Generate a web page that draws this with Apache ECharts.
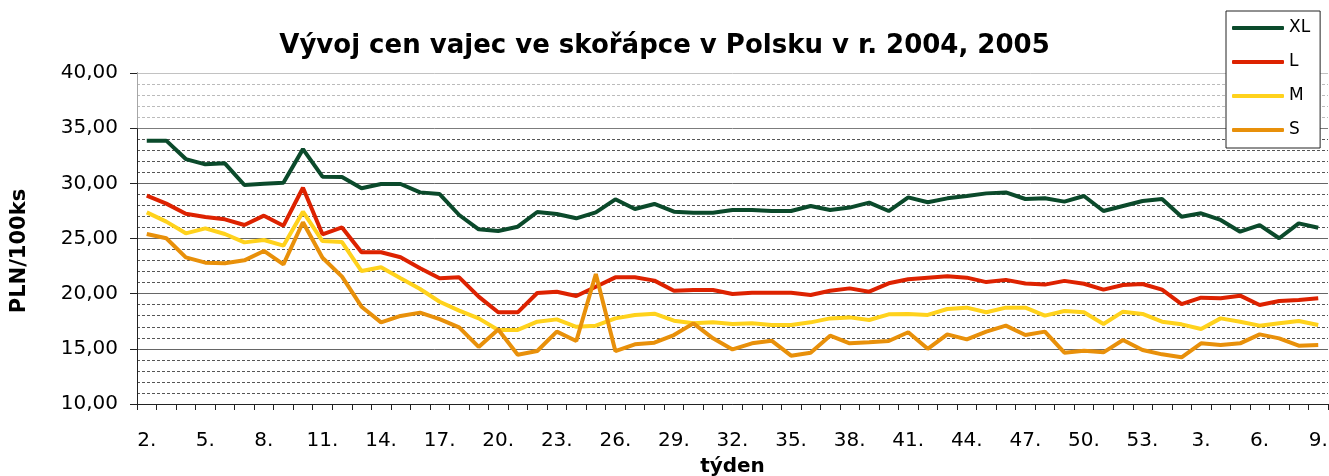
<!DOCTYPE html>
<html>
<head>
<meta charset="utf-8">
<script src="https://cdn.jsdelivr.net/npm/echarts@6/dist/echarts.min.js"></script>
<style>
html,body{margin:0;padding:0;background:#fff;}
#c{width:1329px;height:476px;}
</style>
</head>
<body>
<div id="c"></div>
<script>
var weeks2004 = [2,3,4,5,6,7,8,9,10,11,12,13,14,15,16,17,18,19,20,21,22,23,24,25,26,27,28,29,30,31,32,33,34,35,36,37,38,39,40,41,42,43,44,45,46,47,48,49,50,51,52,53];
var weeks2005 = [1,2,3,4,5,6,7,8,9];
var categories = weeks2004.concat(weeks2005).map(function(w){ return w + '.'; });

var seriesNames = ['XL', 'L', 'M', 'S'];

var xl = [33.87,33.87,32.2,31.72,31.81,29.85,29.97,30.06,33.1,30.6,30.57,29.55,29.94,29.94,29.18,29.03,27.13,25.83,25.68,26.07,27.4,27.22,26.83,27.37,28.55,27.67,28.13,27.43,27.34,27.34,27.58,27.58,27.49,27.49,27.95,27.58,27.8,28.25,27.49,28.73,28.28,28.64,28.85,29.09,29.18,28.58,28.64,28.34,28.85,27.49,27.95,28.4,28.58,26.98,27.28,26.68,25.62,26.22,25.02,26.37,25.98];
var l = [28.88,28.16,27.25,26.95,26.74,26.22,27.07,26.16,29.6,25.38,26.0,23.75,23.75,23.3,22.3,21.39,21.48,19.73,18.31,18.31,20.06,20.18,19.79,20.63,21.48,21.48,21.18,20.27,20.33,20.33,19.97,20.09,20.09,20.09,19.88,20.27,20.48,20.18,20.94,21.3,21.45,21.57,21.45,21.05,21.25,20.92,20.82,21.16,20.9,20.37,20.79,20.88,20.36,19.06,19.64,19.58,19.82,18.97,19.34,19.43,19.58];
var m = [27.37,26.53,25.47,25.92,25.41,24.65,24.86,24.35,27.43,24.77,24.68,22.05,22.39,21.39,20.42,19.27,18.46,17.76,16.71,16.71,17.46,17.67,17.0,17.1,17.76,18.07,18.19,17.55,17.31,17.4,17.25,17.31,17.16,17.16,17.4,17.76,17.85,17.61,18.13,18.16,18.07,18.61,18.73,18.31,18.73,18.73,18.01,18.43,18.31,17.25,18.37,18.16,17.46,17.22,16.8,17.76,17.46,17.1,17.31,17.52,17.16];
var s = [25.41,25.02,23.29,22.81,22.75,23.02,23.87,22.66,26.47,23.26,21.54,18.82,17.4,17.98,18.28,17.7,16.95,15.17,16.75,14.47,14.8,16.56,15.71,21.78,14.8,15.41,15.56,16.25,17.31,15.95,14.95,15.5,15.74,14.38,14.65,16.19,15.5,15.59,15.71,16.5,15.0,16.31,15.86,16.56,17.1,16.25,16.56,14.65,14.83,14.68,15.8,14.89,14.5,14.23,15.5,15.35,15.5,16.31,15.95,15.29,15.35];

var yMin = 10, yMax = 40, yStep = 5;
var fadedBand = [35, 40];
var colors = ['#0b4a2b', '#dd2200', '#ffd21c', '#e8900a'];
var values = [xl, l, m, s];

var chart = echarts.init(document.getElementById('c'), null, {renderer: 'canvas'});
var font = 'DejaVu Sans';

var series = seriesNames.map(function(n, i){
  return {
    name: n,
    type: 'line',
    data: values[i],
    symbol: 'none',
    color: colors[i],
    lineStyle: {width: 4, color: colors[i]},
    z: 3
  };
});
// lighten the gridlines in the top band, as in the original
series[0].markArea = {
  silent: true,
  z: 1,
  itemStyle: {color: 'rgba(255,255,255,0.6)'},
  data: [[{yAxis: fadedBand[0]}, {yAxis: fadedBand[1]}]]
};

chart.setOption({
  animation: false,
  backgroundColor: '#ffffff',
  title: {
    text: 'Vývoj cen vajec ve skořápce v Polsku v r. 2004, 2005',
    left: 'center',
    top: 28,
    textStyle: {fontFamily: font, fontWeight: 'bold', fontSize: 26, color: '#000'}
  },
  legend: {
    orient: 'vertical',
    left: 1226,
    top: 11,
    padding: [7, 10, 8, 6],
    itemWidth: 52,
    itemHeight: 4,
    itemGap: 14,
    icon: 'roundRect',
    backgroundColor: '#fff',
    borderColor: '#222',
    borderWidth: 1,
    textStyle: {fontFamily: font, fontSize: 17, color: '#000', lineHeight: 20},
    data: seriesNames
  },
  grid: {left: 137, right: 1, top: 73, bottom: 72, containLabel: false, outerBoundsMode: 'none'},
  xAxis: {
    type: 'category',
    data: categories,
    boundaryGap: true,
    name: 'týden',
    nameLocation: 'middle',
    nameGap: 53,
    nameTextStyle: {fontFamily: font, fontWeight: 'bold', fontSize: 20, color: '#000'},
    axisLine: {lineStyle: {color: '#222', width: 1}},
    axisTick: {show: true, interval: 0, length: 6, lineStyle: {color: '#222'}},
    axisLabel: {interval: 2, margin: 27, fontFamily: font, fontSize: 20, color: '#000'},
    splitLine: {show: false}
  },
  yAxis: {
    type: 'value',
    min: yMin,
    max: yMax,
    interval: yStep,
    axisLine: {show: true, lineStyle: {color: '#222', width: 1}},
    axisTick: {show: true, length: 7, lineStyle: {color: '#222'}},
    axisLabel: {
      margin: 19, fontFamily: font, fontSize: 20, color: '#000',
      formatter: function(v){ return v.toFixed(2).replace('.', ','); }
    },
    splitLine: {show: true, lineStyle: {color: '#666', width: 1}},
    minorTick: {show: false, splitNumber: 5},
    minorSplitLine: {show: true, lineStyle: {color: '#555', width: 1, type: [3, 2]}}
  },
  graphic: [{
    type: 'text',
    x: 20, y: 251,
    rotation: Math.PI / 2,
    style: {
      text: 'PLN/100ks',
      fontFamily: font, fontWeight: 'bold', fontSize: 21, fill: '#000',
      align: 'center', verticalAlign: 'middle'
    }
  }],
  series: series
});
</script>
</body>
</html>
